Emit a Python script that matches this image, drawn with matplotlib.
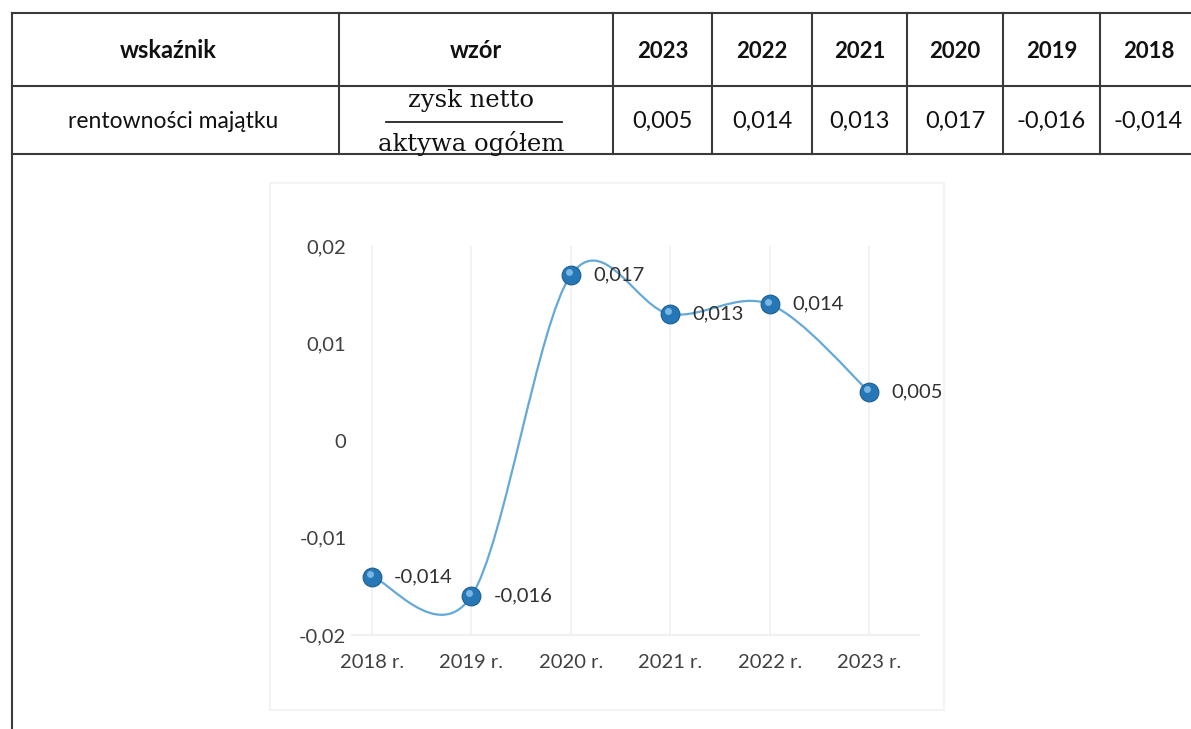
import numpy as np
import matplotlib
matplotlib.use('Agg')
import matplotlib.pyplot as plt
import matplotlib.transforms as mtransforms
from matplotlib.path import Path
from matplotlib.patches import PathPatch, Rectangle
from matplotlib.lines import Line2D

#------------------------------------------------------------------------------
# DATA

# table (years run newest -> oldest, as in the document)
table_years  = ['2023', '2022', '2021', '2020', '2019', '2018']
table_values = [0.005, 0.014, 0.013, 0.017, -0.016, -0.014]

indicator   = 'rentowności majątku'
numerator   = 'zysk netto'
denominator = 'aktywa ogółem'
head_left   = 'wskaźnik'
head_mid    = 'wzór'

# chart (oldest -> newest)
chart_labels = ['2018 r.', '2019 r.', '2020 r.', '2021 r.', '2022 r.', '2023 r.']
chart_values = [-0.014, -0.016, 0.017, 0.013, 0.014, 0.005]
y_ticks      = [-0.02, -0.01, 0, 0.01, 0.02]

#------------------------------------------------------------------------------
# helpers

W, H = 1191, 729
SANS  = ['Lato', 'DejaVu Sans']
SERIF = ['DejaVu Serif']

def pl(v, fmt='{:.3f}'):
    # polish decimal comma
    if v == 0:
        return '0'
    return fmt.format(v).replace('.', ',')

def fx(x): return x / W
def fy(y): return 1 - y / H

fig = plt.figure(figsize=(W / 100, H / 100), dpi=100)
fig.patch.set_facecolor('white')

def hline(y, x0, x1, lw=1.5, c='#3a3a3a'):
    fig.add_artist(Line2D([fx(x0), fx(x1)], [fy(y), fy(y)], lw=lw, color=c))

def vline(x, y0, y1, lw=1.5, c='#3a3a3a'):
    fig.add_artist(Line2D([fx(x), fx(x)], [fy(y0), fy(y1)], lw=lw, color=c))

#------------------------------------------------------------------------------
# TABLE

top, mid, bot = 13, 86, 154
col_edges = [339, 613, 712, 812, 907, 1003, 1100, 1197]

hline(top, 12, W)
hline(mid, 12, W)
hline(bot, 12, W)
vline(12, top, H)
for xe in col_edges[:-1]:
    vline(xe, top, bot)

tcol = '#111111'
fig.text(fx(168), fy(51), head_left, ha='center', va='center', fontsize=17,
         fontweight='bold', family=SANS, color=tcol)
fig.text(fx(476), fy(51), head_mid, ha='center', va='center', fontsize=17,
         fontweight='bold', family=SANS, color=tcol)
fig.text(fx(173), fy(121), indicator, ha='center', va='center', fontsize=16.5,
         family=SANS, color=tcol)

# formula as a fraction
fig.text(fx(471), fy(100), numerator, ha='center', va='center', fontsize=17.5,
         family=SERIF, color=tcol)
hline(122, 386, 562, lw=1.3, c='#222222')
fig.text(fx(471), fy(143), denominator, ha='center', va='center', fontsize=17.5,
         family=SERIF, color=tcol)

for i, (yr, v) in enumerate(zip(table_years, table_values)):
    xc = (col_edges[i + 1] + col_edges[i + 2]) / 2
    fig.text(fx(xc), fy(51), yr, ha='center', va='center', fontsize=16,
             fontweight='bold', family=SANS, color=tcol)
    fig.text(fx(xc), fy(121), pl(v), ha='center', va='center', fontsize=17,
             family=SANS, color=tcol)

#------------------------------------------------------------------------------
# CHART

# faint chart-area frame from the scan
fig.add_artist(Rectangle((fx(270), fy(710)), fx(944) - fx(270), fy(183) - fy(710),
                         transform=fig.transFigure, fill=False, ec='#f3f3f3', lw=1.5))

ax_l, ax_r, ax_t, ax_b = 352, 919, 246, 635
ax = fig.add_axes([fx(ax_l), fy(ax_b), fx(ax_r) - fx(ax_l), (ax_b - ax_t) / H])

x = np.arange(len(chart_values))
y = np.array(chart_values)

ax.set_xlim(-0.2, len(x) - 0.5)
ax.set_ylim(y_ticks[0], y_ticks[-1])

# smoothed line (excel style bezier through the points)
n = len(x)
verts = [(x[0], y[0])]
codes = [Path.MOVETO]
for i in range(n - 1):
    a = max(i - 1, 0)
    b = min(i + 2, n - 1)
    c1 = (x[i] + (x[i + 1] - x[a]) / 6, y[i] + (y[i + 1] - y[a]) / 6)
    c2 = (x[i + 1] - (x[b] - x[i]) / 6, y[i + 1] - (y[b] - y[i]) / 6)
    verts += [c1, c2, (x[i + 1], y[i + 1])]
    codes += [Path.CURVE4] * 3
ax.add_patch(PathPatch(Path(verts, codes), fc='none', ec='#64a9d8', lw=1.6, zorder=2))

# markers (blue balls)
ax.plot(x, y, 'o', ms=13.5, mfc='#2677b6', mec='#1c5e93', mew=0.8, zorder=3)
hl = mtransforms.offset_copy(ax.transData, fig=fig, x=-1.5, y=2.0, units='points')
ax.plot(x, y, 'o', ms=5, mfc='#8ec6ef', mec='none', alpha=0.8, transform=hl, zorder=4)

# data labels
for xi, v in zip(x, y):
    ax.annotate(pl(v), (xi, v), xytext=(16, 0), textcoords='offset points',
                ha='left', va='center', fontsize=14.5, family=SANS, color='#303030')

ax.set_xticks(x)
ax.set_xticklabels(chart_labels)
ax.set_yticks(y_ticks)
ax.set_yticklabels([pl(t, '{:.2f}') for t in y_ticks])
ax.tick_params(axis='x', length=0, pad=14, labelsize=14.5, labelcolor='#404040')
ax.tick_params(axis='y', length=0, pad=4, labelsize=14.5, labelcolor='#404040')
for lab in ax.get_xticklabels() + ax.get_yticklabels():
    lab.set_family(SANS)

ax.grid(axis='x', color='#f2f2f2', lw=1.5)
ax.set_axisbelow(True)
for s in ['top', 'right', 'left']:
    ax.spines[s].set_visible(False)
ax.spines['bottom'].set_color('#f0f0f0')
ax.spines['bottom'].set_linewidth(1.5)
ax.set_facecolor('none')

fig.savefig('out.png', dpi=100, facecolor='white')
